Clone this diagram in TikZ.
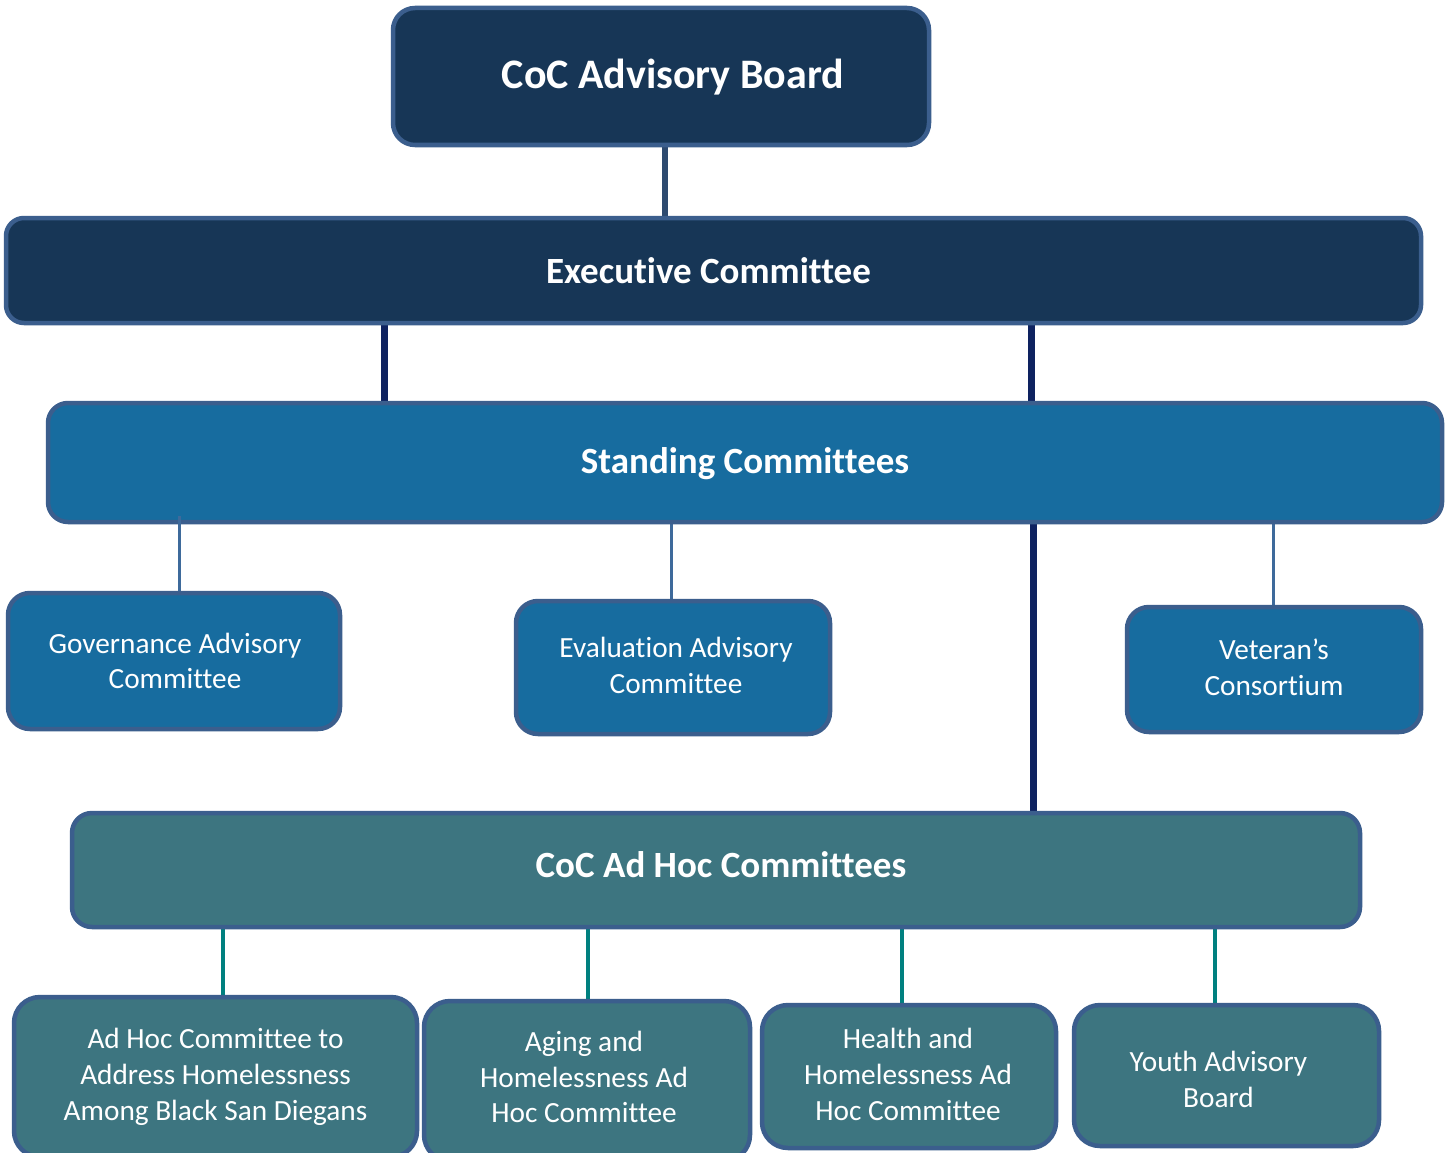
\documentclass[tikz,border=0pt]{standalone}
\usepackage{fontspec}
\setmainfont[Ligatures={NoCommon}]{Carlito}
\usetikzlibrary{backgrounds}
\definecolor{navyfill}{HTML}{173656}
\definecolor{bluefill}{HTML}{176C9F}
\definecolor{tealfill}{HTML}{3D7580}
\definecolor{boxline}{HTML}{3B5E8D}
\definecolor{linkA}{HTML}{2E4B70}
\definecolor{linkNavy}{HTML}{0E2260}
\definecolor{linkBlue}{HTML}{3E6A9B}
\definecolor{linkTeal}{HTML}{00807F}
\tikzset{
  box/.style={draw=boxline, line width=4.5pt, rounded corners=22pt, inner sep=0pt},
  topbox/.style={box, fill=navyfill},
  execbox/.style={box, fill=navyfill, rounded corners=18pt},
  standbox/.style={box, fill=bluefill, rounded corners=20pt},
  adhocbox/.style={box, fill=tealfill, rounded corners=20pt},
  subblue/.style={box, fill=bluefill},
  subteal/.style={box, fill=tealfill, rounded corners=26pt},
  bigtxt/.style={text=white, align=center, inner sep=0pt, font=\bfseries\fontsize{42}{50}\selectfont},
  headtxt/.style={text=white, align=center, inner sep=0pt, font=\bfseries\fontsize{37}{44}\selectfont},
  bodytxt/.style={text=white, align=center, inner sep=0pt, font=\fontsize{29.3}{35.8}\selectfont},
  linkdark/.style={draw=linkA, line width=6pt},
  linknavy/.style={draw=linkNavy, line width=7pt},
  linkblue/.style={draw=linkBlue, line width=3pt},
  linkteal/.style={draw=linkTeal, line width=3.5pt},
}
\begin{document}
\begin{tikzpicture}[x=1pt,y=-1pt]
\useasboundingbox (0,0) rectangle (1453,1153);

\node[topbox, minimum width=536pt, minimum height=137pt,
  label={[bigtxt, xshift=12pt, yshift=-1pt]center:CoC Advisory Board}] (ab) at (661,76.5) {};
\node[execbox, minimum width=1415pt, minimum height=105pt,
  label={[headtxt, xshift=-5pt]center:Executive Committee}] (ex) at (713.5,270.5) {};
\node[standbox, minimum width=1394pt, minimum height=119pt,
  label={[headtxt, yshift=-1pt]center:Standing Committees}] (st) at (745,462.5) {};
\node[subblue, minimum width=332pt, minimum height=136pt,
  label={[bodytxt, xshift=1pt]center:Governance Advisory\\Committee}] (gov) at (174,661) {};
\node[subblue, minimum width=314pt, minimum height=133pt,
  label={[bodytxt, xshift=3pt, yshift=2pt]center:Evaluation Advisory\\Committee}] (eval) at (673,667.5) {};
\node[subblue, minimum width=294pt, minimum height=125pt,
  label={[bodytxt, yshift=2pt]center:Veteran’s\\Consortium}] (vet) at (1274,669.5) {};
\node[adhocbox, minimum width=1288pt, minimum height=114pt,
  label={[headtxt, xshift=5pt, yshift=5pt]center:CoC Ad Hoc Committees}] (ah) at (716,870) {};
\node[subteal, minimum width=403pt, minimum height=160pt,
  label={[bodytxt]center:Ad Hoc Committee to\\Address Homelessness\\Among Black San Diegans}] (b1) at (215.5,1077) {};
\node[subteal, minimum width=326pt, minimum height=160pt,
  label={[bodytxt, xshift=-3pt, yshift=4pt]center:Aging and\\Homelessness Ad\\Hoc Committee}] (b2) at (587,1081) {};
\node[subteal, minimum width=294pt, minimum height=143pt,
  label={[bodytxt, xshift=-1pt, yshift=2pt]center:Health and\\Homelessness Ad\\Hoc Committee}] (b3) at (909,1076.5) {};
\node[subteal, minimum width=305pt, minimum height=141pt,
  label={[bodytxt, xshift=-8pt, yshift=-4pt]center:Youth Advisory\\Board}] (b4) at (1226.5,1075.5) {};

\coordinate (xab) at (665,0);
\coordinate (xe1) at (384,0);
\coordinate (xe2) at (1031,0);
\coordinate (xgov) at (179,0);
\coordinate (xeval) at (671,0);
\coordinate (xvet) at (1273,0);
\coordinate (xah) at (1033,0);
\coordinate (xb1) at (223,0);
\coordinate (xb2) at (588,0);
\coordinate (xb3) at (902,0);
\coordinate (xb4) at (1215,0);

\begin{scope}[on background layer]
\fill[white] (0,0) rectangle (1453,1153);
\draw[linkdark] (ab.south -| xab) -- (ex.north -| xab);
\draw[linknavy] (ex.south -| xe1) -- (st.north -| xe1);
\draw[linknavy] (ex.south -| xe2) -- (st.north -| xe2);
\draw[linkblue] (st.south -| xeval) -- (eval.north -| xeval);
\draw[linkblue] (st.south -| xvet) -- (vet.north -| xvet);
\draw[linknavy] (st.south -| xah) -- (ah.north -| xah);
\draw[linkteal] (ah.south -| xb1) -- (b1.north -| xb1);
\draw[linkteal] (ah.south -| xb2) -- (b2.north -| xb2);
\draw[linkteal] (ah.south -| xb3) -- (b3.north -| xb3);
\draw[linkteal] (ah.south -| xb4) -- (b4.north -| xb4);
\end{scope}
\draw[linkblue] ([yshift=8pt]st.south -| xgov) -- (gov.north -| xgov);
\end{tikzpicture}
\end{document}
